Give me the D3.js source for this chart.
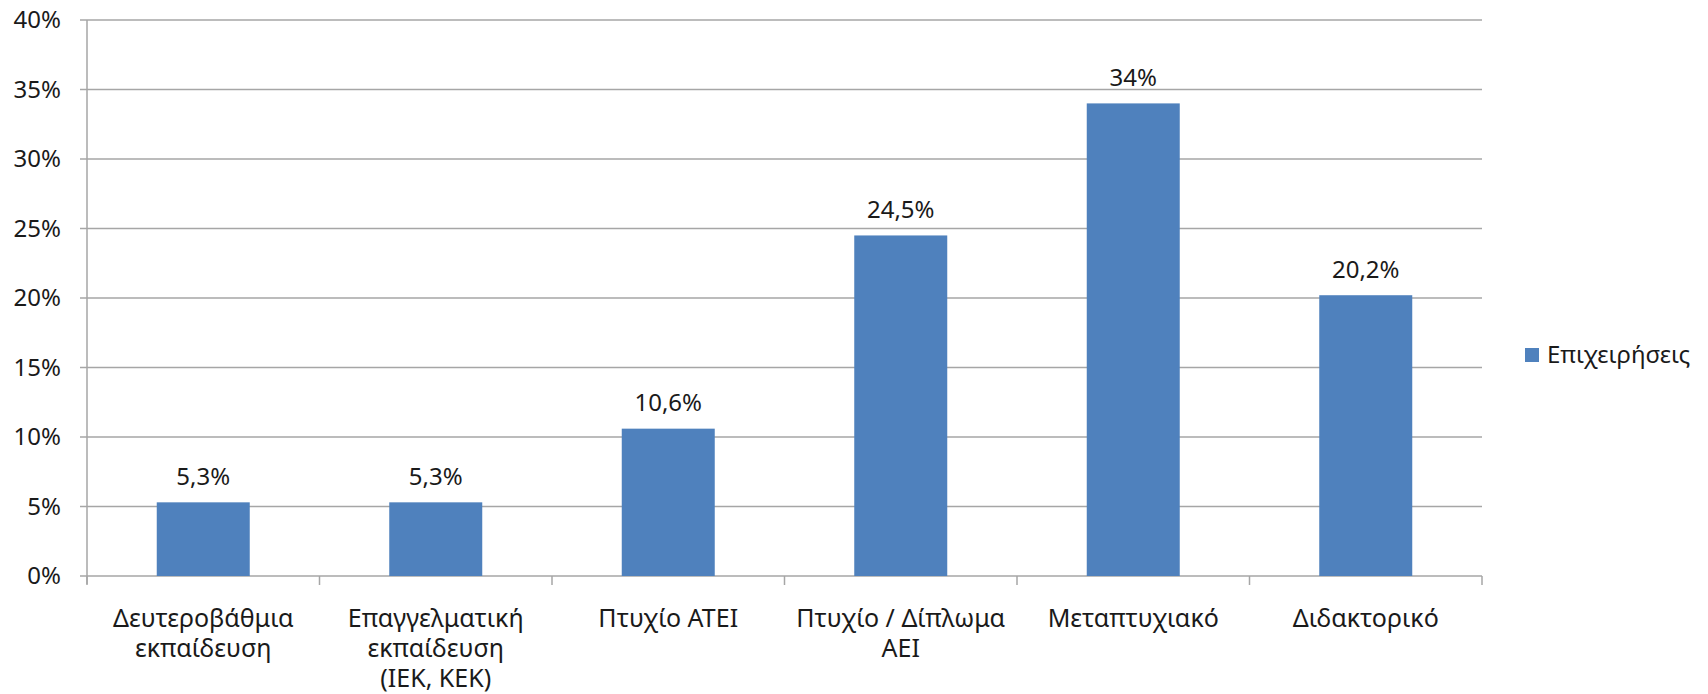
<!DOCTYPE html>
<html><head><meta charset="utf-8">
<script src="https://cdn.jsdelivr.net/npm/d3@7"></script>
<style>body{margin:0;background:#fff}text{font-family:"Noto Sans",sans-serif;fill:#1a1a1a}</style>
</head><body>
<svg id="c" width="1708" height="694"></svg>
<script>
const categories = [["Δευτεροβάθμια","εκπαίδευση"],["Επαγγελματική","εκπαίδευση","(ΙΕΚ, ΚΕΚ)"],["Πτυχίο ΑΤΕΙ"],["Πτυχίο / Δίπλωμα","ΑΕΙ"],["Μεταπτυχιακό"],["Διδακτορικό"]];
const values = [5.3, 5.3, 10.6, 24.5, 34, 20.2];
const valueLabels = ["5,3%","5,3%","10,6%","24,5%","34%","20,2%"];
const yTicks = [0,5,10,15,20,25,30,35,40];
const seriesName = "Επιχειρήσεις";

const svg = d3.select("#c");
const pL = 87, pR = 1482, pT = 20, pB = 576;
const x = d3.scaleBand().domain(d3.range(categories.length)).range([pL, pR]).paddingInner(0.6).paddingOuter(0.3);
const xb = d3.scaleBand().domain(d3.range(categories.length)).range([pL, pR]);
const y = d3.scaleLinear().domain([0,40]).range([pB, pT]);
const fs = 24, fc = 25;

svg.append("g").selectAll("line").data(yTicks).join("line")
  .attr("x1", pL-7).attr("x2", pR).attr("y1", d=>y(d)).attr("y2", d=>y(d))
  .attr("stroke", "#a6a6a6").attr("stroke-width", 1.5);
svg.append("g").selectAll("text").data(yTicks).join("text")
  .attr("x", 61).attr("y", d=>y(d)).attr("dy","0.35em").attr("text-anchor","end")
  .style("font-size", fs+"px").text(d=>d+"%");
svg.append("line").attr("x1",pL).attr("x2",pL).attr("y1",pT).attr("y2",pB+8).attr("stroke","#a6a6a6").attr("stroke-width",1.5);
svg.append("g").selectAll("line").data(d3.range(categories.length+1)).join("line")
  .attr("x1", d=> d<categories.length? xb(d): pR).attr("x2", d=> d<categories.length? xb(d): pR)
  .attr("y1", pB).attr("y2", pB+9).attr("stroke","#a6a6a6").attr("stroke-width",1.5);
svg.append("g").selectAll("rect").data(values).join("rect")
  .attr("x",(d,i)=>x(i)).attr("width",x.bandwidth()).attr("y",d=>y(d)).attr("height",d=>y(0)-y(d))
  .attr("fill","#4f81bd");
svg.append("g").selectAll("text").data(values).join("text")
  .attr("x",(d,i)=>x(i)+x.bandwidth()/2).attr("y",d=>y(d)-26).attr("dy","0.35em").attr("text-anchor","middle")
  .style("font-size", fs+"px").text((d,i)=>valueLabels[i]);
const cg = svg.append("g").selectAll("text").data(categories).join("text")
  .attr("text-anchor","middle").style("font-size", fc+"px");
cg.selectAll("tspan").data((d,i)=>d.map(t=>({t,i}))).join("tspan")
  .attr("x", d=>xb(d.i)+xb.bandwidth()/2).attr("y",(d,j)=>618+j*30).attr("dy","0.35em").text(d=>d.t);
svg.append("rect").attr("x",1525).attr("y",348).attr("width",14).attr("height",14).attr("fill","#4f81bd");
svg.append("text").attr("x",1547).attr("y",355).attr("dy","0.35em").style("font-size",fs+"px").text(seriesName);
</script>
</body></html>
